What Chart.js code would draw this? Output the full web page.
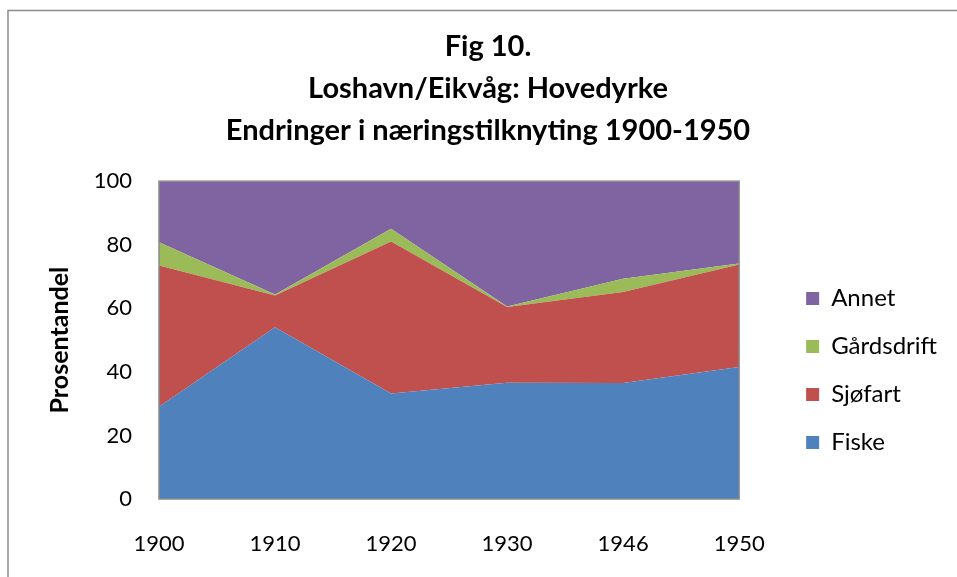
<!DOCTYPE html>
<html>
<head>
<meta charset="utf-8">
<script src="https://cdn.jsdelivr.net/npm/chart.js@4.4.1/dist/chart.umd.min.js"></script>
<style>
  html, body { margin: 0; padding: 0; background: #fff; }
  #wrap { position: relative; width: 957px; height: 577px; }
</style>
</head>
<body>
<div id="wrap"><canvas id="chart" width="957" height="577"></canvas></div>
<script>
// Data (percent of households)
const years = ["1900", "1910", "1920", "1930", "1946", "1950"];
const fiske = [29, 54, 33.2, 36.6, 36.5, 41.5];
const sjofart = [44.5, 10, 47.8, 23.8, 28.6, 32.3];
const gardsdrift = [7.3, 0.3, 4, 0.2, 4.2, 0.3];
const annet = [19.2, 35.7, 15, 39.4, 30.7, 25.9];
const yTicks = [0, 20, 40, 60, 80, 100];
const titleLines = ["Fig 10.", "Loshavn/Eikvåg: Hovedyrke", "Endringer i næringstilknyting 1900-1950"];

const FONT = "Lato, 'Noto Sans', sans-serif";

// Ramme rundt figuren og plottområdet
const framePlugin = {
  id: "frame",
  beforeDraw(chart) {
    const ctx = chart.ctx;
    ctx.save();
    ctx.strokeStyle = "#8c8c8c";
    ctx.lineWidth = 1.5;
    ctx.beginPath();
    ctx.moveTo(8, 577);
    ctx.lineTo(8, 10.5);
    ctx.lineTo(957, 10.5);
    ctx.stroke();
    ctx.restore();
  },
  afterDatasetsDraw(chart) {
    const a = chart.chartArea;
    const ctx = chart.ctx;
    ctx.save();
    ctx.strokeStyle = "#8a8a8a";
    ctx.lineWidth = 1.5;
    ctx.strokeRect(a.left, a.top, a.right - a.left, a.bottom - a.top);
    ctx.restore();
  }
};

function area(label, data, color, fill) {
  return {
    label: label,
    data: data,
    backgroundColor: color,
    borderColor: color,
    borderWidth: 0,
    fill: fill,
    pointRadius: 0,
    pointHoverRadius: 0,
    tension: 0
  };
}

new Chart(document.getElementById("chart"), {
  type: "line",
  data: {
    labels: years,
    datasets: [
      area("Fiske", fiske, "#4F81BD", "origin"),
      area("Sjøfart", sjofart, "#C0504D", "-1"),
      area("Gårdsdrift", gardsdrift, "#9BBB59", "-1"),
      area("Annet", annet, "#8064A2", "-1")
    ]
  },
  options: {
    responsive: false,
    animation: false,
    layout: { padding: { top: 26, right: 10, bottom: 20, left: 29 } },
    plugins: {
      tooltip: { enabled: false },
      title: {
        display: true,
        text: titleLines,
        color: "#000",
        font: { family: FONT, size: 29, weight: "bold", lineHeight: 1.45 },
        padding: { top: 0, bottom: 29 }
      },
      legend: {
        position: "right",
        reverse: true,
        maxWidth: 220,
        title: {
          display: true,
          text: " ",
          font: { family: FONT, size: 10, lineHeight: 1 },
          padding: { top: 74, bottom: 74 }
        },
        labels: {
          color: "#000",
          font: { family: FONT, size: 24 },
          boxWidth: 13,
          boxHeight: 13,
          padding: 24
        }
      }
    },
    scales: {
      x: {
        offset: false,
        grid: { display: false, drawTicks: false, tickLength: 0 },
        border: { display: false },
        ticks: { color: "#000", font: { family: FONT, size: 22 }, padding: 32, maxRotation: 0 },
        afterFit(scale) { scale.height = 58; }
      },
      y: {
        stacked: true,
        min: 0,
        max: 100,
        afterBuildTicks(scale) { scale.ticks = yTicks.map(v => ({ value: v })); },
        grid: { display: false, drawTicks: false, tickLength: 0 },
        border: { display: false },
        ticks: { color: "#000", font: { family: FONT, size: 22 }, padding: 27 },
        title: {
          display: true,
          text: "Prosentandel",
          color: "#000",
          font: { family: FONT, size: 25, weight: "bold", lineHeight: 1.2 },
          padding: { top: 16, bottom: 0 }
        },
        afterFit(scale) { scale.width = 130; }
      },
      yR: {
        position: "right",
        display: true,
        grid: { display: false, drawTicks: false },
        border: { display: false },
        ticks: { display: false },
        afterFit(scale) { scale.width = 43; }
      }
    }
  },
  plugins: [framePlugin]
});
</script>
</body>
</html>
